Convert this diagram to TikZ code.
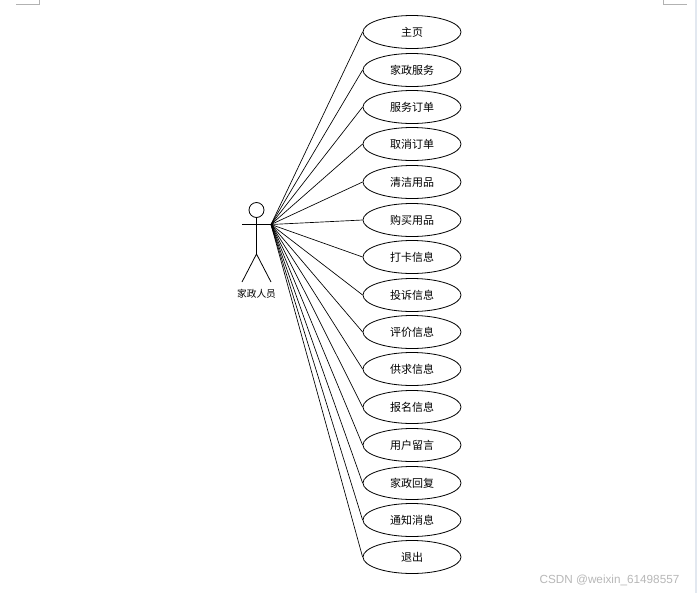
\documentclass[tikz,border=0pt]{standalone}
\usepackage{fontspec}
\setmainfont{Liberation Sans}
\newfontfamily\cjk{Noto Sans CJK SC}
\definecolor{stripe}{RGB}{226,232,240}
\tikzset{
  x=0.75pt,y=-0.75pt,
  usecase/.style={draw=black,line width=0.6pt,ellipse,fill=white,minimum width=73.5pt,minimum height=24.75pt,inner sep=0pt,font=\cjk\fontsize{8.25pt}{10pt}\selectfont},
  link/.style={draw=black,line width=0.5pt},
  stick/.style={draw=black,line width=0.6pt},
  crop/.style={draw=black!30,line width=0.75pt},
}
\usetikzlibrary{shapes.geometric}
\begin{document}
\begin{tikzpicture}
\useasboundingbox (0,0) rectangle (697,593);
\fill[white] (0,0) rectangle (697,593);
\fill[stripe] (694.5,0) rectangle (697,593);
\draw[crop] (16,4.5) -- (39.5,4.5) -- (39.5,0);
\draw[crop] (663.5,0) -- (663.5,4.5) -- (687,4.5);
% actor
\coordinate (hand) at (271,224.5);
\node[circle,draw=black,line width=0.6pt,minimum size=11.25pt,inner sep=0pt] (head) at (256.5,210) {};
\coordinate (hip) at (256.5,254);
\coordinate (handl) at (242,224.5);
\coordinate (footl) at (242,282);
\coordinate (footr) at (271,282);
\draw[stick] (head.south) -- (hip);
\draw[stick] (handl) -- (hand);
\draw[stick] (footl) -- (hip) -- (footr);
\node[inner sep=0pt,font=\cjk\fontsize{7.3pt}{9pt}\selectfont] (actor) at (256.5,293.5) {家政人员};
% use cases
\foreach \name/\yy/\txt in {a/32/主页,b/70/家政服务,c/107/服务订单,d/144/取消订单,e/182/清洁用品,f/220/购买用品,g/257/打卡信息,h/295/投诉信息,i/332/评价信息,j/369/供求信息,k/407/报名信息,l/445/用户留言,m/483/家政回复,n/520/通知消息,o/557/退出}{
  \node[usecase] (\name) at (412,\yy) {\txt};
  \draw[link] (hand) -- (\name.west);
}
\node[inner sep=0pt,text=black!28,font=\fontsize{8.8pt}{11pt}\selectfont] (mark) at (609.5,580) {CSDN @weixin\_61498557};
\end{tikzpicture}
\end{document}
